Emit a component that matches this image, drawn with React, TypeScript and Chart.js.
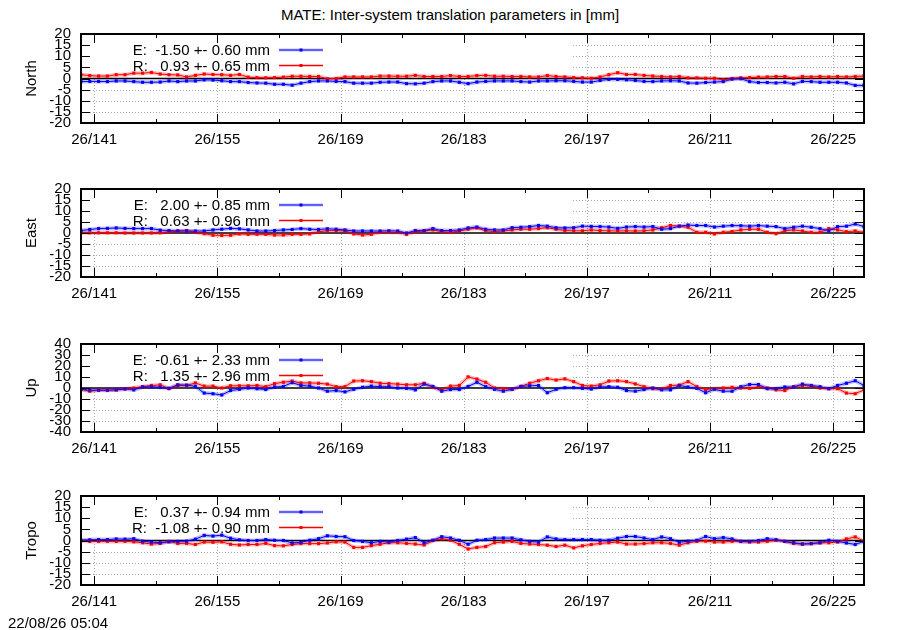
import React, { useEffect, useRef } from 'react';
import { Chart, registerables, Plugin } from 'chart.js';

Chart.register(...registerables);

// daily solutions, first epoch at 26/139.5
const firstDay = 139.5;

const northE = [
  -1.4, -1.3, -1.3, -1.4, -1.1, -1.1, -1.4, -1.7, -1.7, -1.6, -1.1, -1.4, -1.1, -1.1, -0.6, -0.7, -1.0, -1.4, -1.4, -1.8,
  -2.0, -2.1, -2.6, -2.6, -3.0, -2.1, -1.4, -1.1, -1.1, -1.3, -1.4, -2.1, -2.1, -2.1, -1.7, -1.6, -1.6, -2.3, -2.4, -2.1,
  -1.4, -1.1, -1.1, -1.7, -2.3, -1.6, -1.3, -1.1, -1.1, -1.1, -1.4, -1.6, -1.1, -1.1, -1.0, -1.0, -1.3, -1.6, -1.6, -0.9,
  -0.4, -0.4, -0.6, -0.9, -1.3, -1.4, -1.1, -1.0, -1.1, -2.0, -2.1, -1.8, -1.6, -1.4, -0.3, -0.1, -1.4, -1.8, -1.8, -2.0,
  -1.7, -2.4, -1.3, -1.4, -1.7, -1.7, -1.7, -2.0, -3.1, -3.1,
];
const northR = [
  1.7, 1.3, 1.1, 1.1, 1.7, 1.7, 2.4, 2.4, 2.7, 2.0, 1.7, 1.6, 0.7, 1.4, 2.0, 1.8, 1.7, 1.4, 1.8, 0.6,
  0.4, 0.3, 0.4, 0.6, 1.0, 1.0, 0.9, 0.9, -0.1, 0.0, 0.7, 0.7, 0.7, 0.7, 1.1, 1.1, 1.0, 1.0, 1.4, 0.9,
  0.9, 0.9, 1.3, 0.9, 0.9, 1.3, 1.4, 1.0, 1.0, 0.9, 0.9, 0.7, 0.7, 1.3, 0.9, 0.7, 0.4, 0.3, 0.1, 0.7,
  1.7, 2.6, 1.8, 1.8, 1.4, 1.1, 0.9, 0.7, 0.9, 0.3, 0.3, 0.1, 0.1, -0.6, 0.0, 0.3, 0.4, 0.6, 0.7, 0.9,
  0.9, 0.1, 0.9, 0.7, 0.9, 0.7, 0.9, 0.7, 0.9, 1.1,
];
const eastE = [
  1.1, 1.6, 2.0, 2.1, 2.3, 2.1, 2.0, 2.0, 2.0, 1.3, 1.1, 1.0, 0.9, 0.9, 0.9, 1.4, 1.7, 2.1, 1.9, 1.4,
  0.9, 0.9, 1.1, 1.4, 1.6, 2.0, 1.7, 1.6, 1.9, 1.7, 1.4, 0.9, 0.9, 0.9, 0.9, 1.0, 0.9, 0.0, 1.1, 1.1,
  2.0, 1.1, 1.1, 1.4, 2.3, 2.7, 1.7, 1.4, 1.4, 2.4, 2.6, 2.9, 3.4, 3.1, 2.4, 2.3, 2.4, 3.1, 3.0, 2.9,
  2.7, 2.1, 2.7, 2.9, 2.7, 2.9, 1.7, 2.0, 3.1, 3.6, 3.4, 3.4, 2.7, 3.1, 3.4, 3.3, 3.1, 3.4, 3.1, 2.9,
  2.0, 2.6, 3.1, 2.6, 2.0, 1.0, 2.9, 3.1, 4.1, 2.9,
];
const eastR = [
  0.1, 0.1, 0.1, 0.1, 0.1, 0.0, 0.0, 0.0, 0.0, 0.1, 0.6, 0.7, 1.1, 0.3, -0.3, -1.0, -1.1, -1.0, -0.4, -0.6,
  -0.6, -0.6, -0.9, -0.9, -0.6, -0.6, -0.4, 0.6, 1.0, 1.1, 1.0, -0.4, -0.9, -0.6, 0.3, 0.3, 0.3, -0.6, 0.6, 0.9,
  1.4, 0.6, 0.3, 0.9, 1.7, 2.3, 1.0, 0.7, 0.9, 1.4, 1.7, 1.7, 2.0, 2.4, 1.7, 1.1, 1.0, 1.0, 1.4, 1.1,
  1.0, 0.9, 1.0, 0.9, 1.0, 1.4, 2.4, 3.4, 3.1, 2.6, 0.3, 0.3, -0.4, 0.3, 0.7, 1.4, 1.7, 1.7, 0.3, -0.3,
  1.0, 1.4, 0.9, 0.3, 0.3, 2.0, 1.4, 0.6, 0.9, 0.3,
];
const upE = [
  -1.2, -2.0, -2.0, -2.0, -1.7, -0.9, -1.7, 0.9, 1.2, 0.6, -0.3, 2.9, 2.6, 1.4, -4.6, -5.2, -6.3, -2.3, -1.2, 0.0,
  -0.6, -1.4, 0.9, 1.4, 4.9, 2.3, 1.7, 0.0, -2.9, -2.3, -3.5, -1.2, 0.6, 1.7, 1.2, 1.2, 0.0, -0.3, -1.7, 3.5,
  1.4, -2.9, -1.4, -1.4, 1.4, 5.2, 1.2, -1.2, -2.9, -1.2, 1.4, 2.0, 2.3, -4.3, -1.2, 0.3, 0.3, -0.3, -0.9, 0.9,
  1.2, 0.6, -2.3, -2.9, -1.4, 0.0, -1.7, -1.7, 2.3, 0.9, -0.3, -4.3, -1.2, -2.9, -2.9, 1.2, 3.2, 3.2, -0.6, -0.6,
  0.9, 0.9, 3.5, 2.3, 1.2, -0.6, 2.3, 4.3, 6.6, 2.3,
];
const upR = [
  -1.2, -2.9, -1.7, -2.0, -1.7, -0.6, 0.0, 1.2, 2.3, 2.9, -0.6, 2.3, 2.3, 4.6, 1.7, 1.7, 0.0, 2.0, 2.0, 2.0,
  2.3, 1.2, 4.0, 5.2, 6.3, 4.6, 4.6, 4.3, 3.5, 1.2, 1.2, 6.3, 6.6, 5.8, 4.3, 4.0, 3.5, 2.9, 2.9, 4.3,
  0.6, -1.7, 1.7, 2.3, 10.1, 8.1, 5.2, 0.0, -0.6, -1.2, 1.4, 4.3, 6.6, 8.6, 7.2, 8.3, 5.8, 2.3, 1.7, 2.9,
  6.3, 6.6, 5.8, 3.7, 1.2, -0.6, -0.9, 2.3, 2.6, 5.8, 1.2, -1.4, -0.6, 0.0, 0.6, 0.0, -0.3, 1.2, 0.0, -1.7,
  -2.3, 1.2, 2.3, 1.7, 0.0, -0.6, -0.6, -4.6, -5.2, -1.7,
];
const tropoE = [
  0.1, 0.3, 0.4, 0.4, 0.7, 0.6, 0.8, -0.3, -0.7, -1.0, -0.6, -0.4, -0.3, 0.6, 2.3, 2.0, 2.4, 1.0, 0.3, 0.0,
  0.0, 0.4, 0.1, 0.0, -1.1, -0.8, 0.1, 0.8, 2.1, 1.8, 1.7, 0.0, -0.4, -1.0, -0.4, -0.7, 0.0, 0.6, 1.3, -1.0,
  0.1, 1.7, 1.1, 0.1, -1.7, 0.1, 0.4, 1.1, 1.1, 1.1, 0.3, -0.4, -0.7, 1.6, 0.7, 0.4, 0.4, 0.4, 0.4, 0.1,
  0.1, 1.0, 1.8, 1.8, 1.1, 0.4, 1.6, 0.8, -0.8, -0.3, 0.1, 1.8, 0.8, 1.3, 0.7, -0.4, -0.4, 0.0, 0.8, 0.4,
  -0.4, -1.0, -1.6, -1.4, -1.0, 0.1, -0.4, -1.1, -1.8, -0.4,
];
const tropoR = [
  0.0, -0.4, -0.4, -0.4, -0.4, -0.4, -0.6, -1.0, -1.6, -1.3, -0.4, -1.3, -1.3, -1.8, -0.7, -0.8, -0.6, -1.7, -2.0, -1.8,
  -1.8, -1.3, -2.3, -2.4, -1.8, -1.4, -1.4, -1.4, -1.1, -0.6, -0.7, -3.1, -3.1, -2.3, -1.7, -1.0, -1.0, -1.3, -1.6, -2.0,
  0.0, 0.8, 0.1, -1.7, -3.8, -3.1, -2.7, -1.0, -0.7, -0.4, -1.3, -1.6, -1.8, -2.1, -2.7, -2.1, -3.3, -2.4, -1.8, -1.3,
  -1.0, -0.7, -1.6, -1.6, -1.4, -1.0, -1.0, -1.3, -2.1, -1.0, -0.4, -0.3, -0.7, -0.7, -0.4, -0.4, -0.7, -0.7, -0.4, 0.1,
  -0.4, -1.3, -1.6, -1.4, -1.0, -1.0, -0.7, 0.7, 1.6, -0.3,
];

const days = northE.map((_, i) => firstDay + i);
const majorDays = [141, 155, 169, 183, 197, 211, 225];
const minorDays = [148, 162, 176, 190, 204, 218];
const ticks20 = [20, 15, 10, 5, 0, -5, -10, -15, -20];
const ticks40 = [40, 30, 20, 10, 0, -10, -20, -30, -40];

const northKeys = ['E:  -1.50 +- 0.60 mm', 'R:   0.93 +- 0.65 mm'];
const eastKeys = ['E:   2.00 +- 0.85 mm', 'R:   0.63 +- 0.96 mm'];
const upKeys = ['E:  -0.61 +- 2.33 mm', 'R:   1.35 +- 2.96 mm'];
const tropoKeys = ['E:   0.37 +- 0.94 mm', 'R:  -1.08 +- 0.90 mm'];

const FONT = '"Liberation Sans", Arial, Helvetica, sans-serif';
const BLUE = '#0000ff';
const RED = '#ff0000';
const BLUE_HALO = 'rgba(0,0,255,0.25)';
const RED_HALO = 'rgba(255,0,0,0.25)';

interface PanelCfg {
  name: string;
  e: number[];
  r: number[];
  keys: string[];
  yTicks: number[];
  top: number;
  bottom: number;
}

const panels: PanelCfg[] = [
  { name: 'North', e: northE, r: northR, keys: northKeys, yTicks: ticks20, top: 29, bottom: 123 },
  { name: 'East', e: eastE, r: eastR, keys: eastKeys, yTicks: ticks20, top: 184, bottom: 277 },
  { name: 'Up', e: upE, r: upR, keys: upKeys, yTicks: ticks40, top: 339, bottom: 432 },
  { name: 'Tropo', e: tropoE, r: tropoR, keys: tropoKeys, yTicks: ticks20, top: 491, bottom: 585 },
];

const PAD_TOP = 14;
const X_AXIS_H = 32;
const KEY_RIGHT = 573;

function line(ctx: CanvasRenderingContext2D, x1: number, y1: number, x2: number, y2: number) {
  ctx.beginPath();
  ctx.moveTo(x1, y1);
  ctx.lineTo(x2, y2);
  ctx.stroke();
}

function makeFramePlugin(cfg: PanelCfg): Plugin<'line'> {
  return {
    id: 'gnuplotFrame',
    beforeDatasetsDraw(chart) {
      const { ctx, chartArea: a } = chart;
      const x = chart.scales.x;
      const y = chart.scales.y;
      ctx.save();
      ctx.strokeStyle = '#a8a8a8';
      ctx.lineWidth = 1;
      ctx.setLineDash([1, 2]);
      cfg.yTicks.forEach((v) => {
        if (v === 0) return;
        const py = Math.round(y.getPixelForValue(v)) + 0.5;
        line(ctx, a.left, py, a.right, py);
      });
      majorDays.forEach((d) => {
        const px = Math.round(x.getPixelForValue(d)) + 0.5;
        line(ctx, px, a.top, px, a.bottom);
      });
      ctx.setLineDash([]);
      // opaque key box
      const zy = y.getPixelForValue(0);
      ctx.fillStyle = '#ffffff';
      ctx.fillRect(a.left, a.top, KEY_RIGHT - a.left, zy - a.top - 1);
      // zero axis
      ctx.strokeStyle = '#000000';
      ctx.lineWidth = 1.5;
      line(ctx, a.left, zy, a.right, zy);
      ctx.restore();
    },
    afterDatasetsDraw(chart) {
      const { ctx, chartArea: a } = chart;
      const x = chart.scales.x;
      const y = chart.scales.y;
      ctx.save();
      ctx.strokeStyle = '#000000';
      ctx.lineWidth = 1;
      cfg.yTicks.forEach((v) => {
        const py = Math.round(y.getPixelForValue(v)) + 0.5;
        line(ctx, a.left, py, a.left + 9, py);
        line(ctx, a.right - 9, py, a.right, py);
      });
      majorDays.forEach((d) => {
        const px = Math.round(x.getPixelForValue(d)) + 0.5;
        line(ctx, px, a.top, px, a.top + 9);
        line(ctx, px, a.bottom - 9, px, a.bottom);
      });
      minorDays.forEach((d) => {
        const px = Math.round(x.getPixelForValue(d)) + 0.5;
        line(ctx, px, a.top, px, a.top + 4);
        line(ctx, px, a.bottom - 4, px, a.bottom);
      });
      ctx.lineWidth = 2;
      ctx.strokeRect(a.left, a.top, a.right - a.left, a.bottom - a.top);

      // key
      ctx.font = `15px ${FONT}`;
      ctx.textAlign = 'right';
      ctx.textBaseline = 'middle';
      ctx.fillStyle = '#000000';
      const colors = [BLUE, RED];
      const halos = [BLUE_HALO, RED_HALO];
      cfg.keys.forEach((k, i) => {
        const ty = a.top + 16 + i * 15.5;
        ctx.fillText(k, 270, ty + 1);
        ctx.strokeStyle = halos[i];
        ctx.lineWidth = 3;
        line(ctx, 279, ty, 323, ty);
        ctx.strokeStyle = colors[i];
        ctx.lineWidth = 1;
        line(ctx, 279, ty, 323, ty);
        ctx.fillStyle = colors[i];
        ctx.fillRect(299.5, ty - 1.5, 3, 3);
        ctx.fillStyle = '#000000';
      });

      // panel label
      ctx.translate(32, (a.top + a.bottom) / 2);
      ctx.rotate(-Math.PI / 2);
      ctx.textAlign = 'center';
      ctx.fillText(cfg.name, 0, 0);
      ctx.restore();
    },
  };
}

function toPoints(vals: number[]) {
  return vals.map((v, i) => ({ x: days[i], y: v }));
}

function Panel({ cfg }: { cfg: PanelCfg }) {
  const canvasRef = useRef<HTMLCanvasElement>(null);
  const height = cfg.bottom - cfg.top + PAD_TOP + X_AXIS_H;

  useEffect(() => {
    if (!canvasRef.current) return;
    const yMax = cfg.yTicks[0];
    const yMin = cfg.yTicks[cfg.yTicks.length - 1];
    const tickFont = { family: FONT, size: 15 };
    const chart = new Chart(canvasRef.current, {
      type: 'line',
      data: {
        datasets: [
          { data: toPoints(cfg.e), borderColor: BLUE_HALO, borderWidth: 4, pointRadius: 0 },
          { data: toPoints(cfg.r), borderColor: RED_HALO, borderWidth: 4, pointRadius: 0 },
          {
            data: toPoints(cfg.e), borderColor: BLUE, backgroundColor: BLUE, borderWidth: 1,
            pointStyle: 'rect', pointRadius: 2.2, pointBorderWidth: 0,
          },
          {
            data: toPoints(cfg.r), borderColor: RED, backgroundColor: RED, borderWidth: 1,
            pointStyle: 'rect', pointRadius: 2.2, pointBorderWidth: 0,
          },
        ],
      },
      options: {
        animation: false,
        responsive: false,
        devicePixelRatio: 1,
        events: [],
        layout: { padding: { top: PAD_TOP, right: 36, left: 0, bottom: 0 }, autoPadding: false },
        plugins: { legend: { display: false }, tooltip: { enabled: false }, title: { display: false } },
        elements: { line: { tension: 0 } },
        scales: {
          x: {
            type: 'linear',
            min: days[0],
            max: days[days.length - 1],
            afterBuildTicks: (s) => { s.ticks = majorDays.map((v) => ({ value: v })); },
            afterFit: (s) => { s.height = X_AXIS_H; },
            grid: { display: false, drawTicks: false },
            border: { display: false },
            ticks: {
              autoSkip: false, maxRotation: 0, padding: 8, color: '#000', font: tickFont,
              callback: (v) => `26/${v}`,
            },
          },
          y: {
            type: 'linear',
            min: yMin,
            max: yMax,
            afterBuildTicks: (s) => { s.ticks = cfg.yTicks.map((v) => ({ value: v })); },
            afterFit: (s) => { s.width = 81; },
            grid: { display: false, drawTicks: false },
            border: { display: false },
            ticks: { autoSkip: false, padding: 10, color: '#000', font: tickFont },
          },
        },
      },
      plugins: [makeFramePlugin(cfg)],
    });
    return () => chart.destroy();
  }, [cfg]);

  return (
    <canvas
      ref={canvasRef}
      width={900}
      height={height}
      style={{ position: 'absolute', left: 0, top: cfg.top - PAD_TOP, width: 900, height }}
    />
  );
}

export default function App() {
  return (
    <div style={{ position: 'absolute', left: 0, top: 0, width: 900, height: 630, background: '#fff', overflow: 'hidden' }}>
      <div
        style={{
          position: 'absolute', left: 0, top: 6, width: 900, textAlign: 'center',
          font: `15px ${FONT}`, lineHeight: '18px', color: '#000',
        }}
      >
        MATE: Inter-system translation parameters in [mm]
      </div>
      {panels.map((p) => <Panel key={p.name} cfg={p} />)}
      <div
        style={{
          position: 'absolute', left: 8, top: 614, font: `15px ${FONT}`, lineHeight: '18px', color: '#000',
          whiteSpace: 'pre',
        }}
      >
        22/08/26 05:04
      </div>
    </div>
  );
}
